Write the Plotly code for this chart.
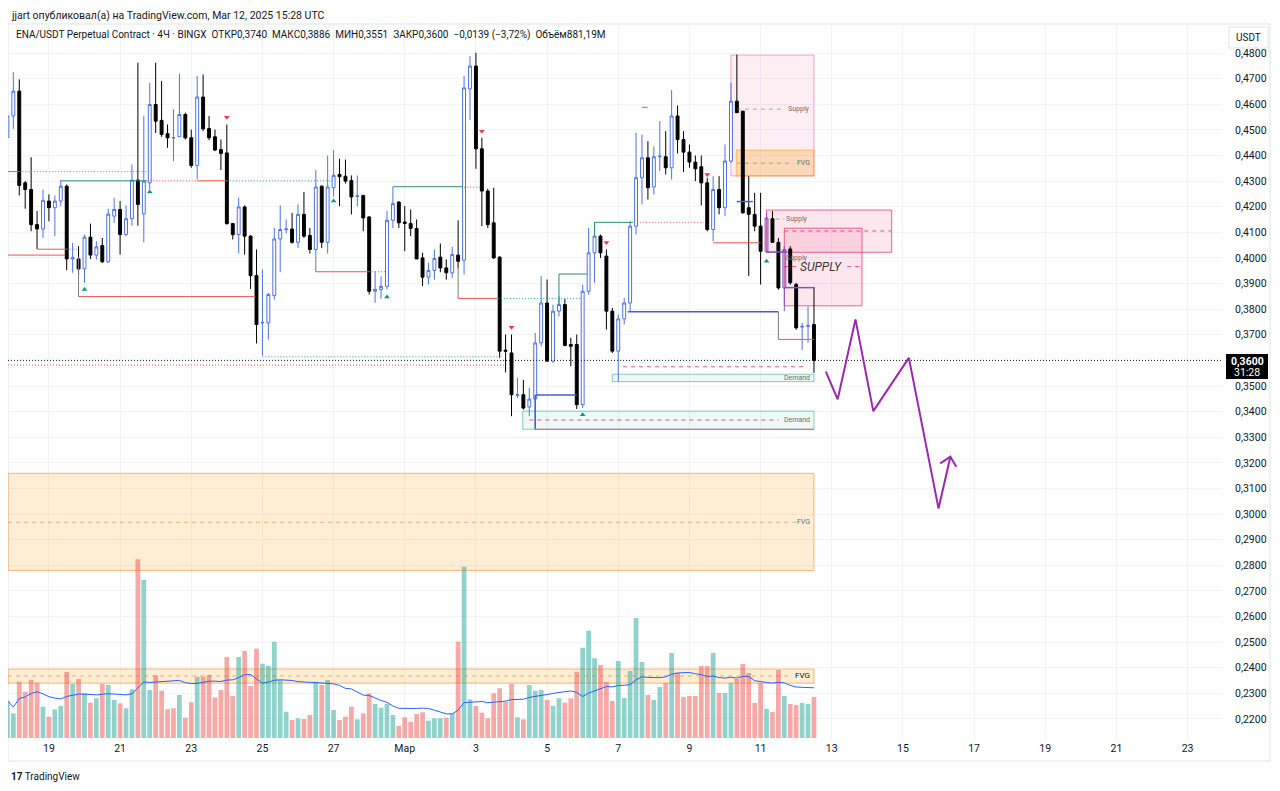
import pandas as pd
import plotly.graph_objects as go

# ---------------- DATA ----------------
T0 = pd.Timestamp("2025-02-17 20:00")  # first (partial) 4h candle

opens = [0.4470,0.4554,0.4651,0.4293,0.4267,0.4130,0.4113,0.4222,0.4196,0.4222,
 0.4280,0.3996,0.3996,0.3957,0.4081,0.4011,0.4048,0.3985,0.4163,0.4189,
 0.4091,0.4153,0.4304,0.4172,0.4293,0.4599,0.4537,0.4485,0.4468,0.4473,
 0.4560,0.4469,0.4361,0.4628,0.4505,0.4473,0.4423,0.4410,0.4134,0.4091,
 0.4199,0.4085,0.3931,0.3746,0.3746,0.3853,0.4074,0.4111,0.4113,0.4061,
 0.4170,0.4088,0.4033,0.4280,0.4061,0.4274,0.4326,0.4319,0.4302,0.4240,
 0.4244,0.4160,0.3870,0.3877,0.3889,0.4147,0.4218,0.4140,0.4134,0.4115,
 0.4000,0.3925,0.3951,0.4003,0.3961,0.3942,0.4011,0.3991,0.4660,0.4749,
 0.4426,0.4261,0.4137,0.4003,0.3640,0.3629,0.3463,0.3466,0.3418,0.3449,
 0.3668,0.3824,0.3597,0.3792,0.3818,0.3662,0.3662,0.3427,0.3870,0.4020,
 0.4085,0.4007,0.3792,0.3636,0.3762,0.3824,0.4124,0.4313,0.4391,0.4277,
 0.4395,0.4395,0.4352,0.4554,0.4462,0.4413,0.4374,0.4356,0.4293,0.4111,
 0.4267,0.4196,0.4378,0.4612,0.4573,0.4196,0.4170,0.4124,0.4026,0.4153,
 0.4061,0.3883,0.4035,0.3896,0.3730,0.3733,0.3740]
highs = [0.4554,0.4725,0.4697,0.4300,0.4393,0.4183,0.4267,0.4248,0.4244,0.4304,
 0.4287,0.4059,0.4046,0.4091,0.4134,0.4065,0.4078,0.4192,0.4235,0.4222,
 0.4205,0.4365,0.4762,0.4554,0.4684,0.4762,0.4690,0.4521,0.4580,0.4720,
 0.4567,0.4501,0.4710,0.4716,0.4554,0.4501,0.4462,0.4521,0.4137,0.4235,
 0.4205,0.4089,0.4033,0.3955,0.3863,0.4117,0.4205,0.4150,0.4176,0.4209,
 0.4257,0.4117,0.4343,0.4283,0.4400,0.4421,0.4387,0.4384,0.4322,0.4322,
 0.4246,0.4163,0.3948,0.3928,0.4183,0.4277,0.4222,0.4202,0.4189,0.4150,
 0.4020,0.3981,0.4033,0.4056,0.3994,0.4043,0.4147,0.4710,0.4788,0.4801,
 0.4469,0.4270,0.4274,0.4007,0.3701,0.3701,0.3531,0.3524,0.3492,0.3707,
 0.3929,0.3916,0.3818,0.3850,0.3840,0.3688,0.3701,0.3896,0.4117,0.4137,
 0.4091,0.4033,0.3805,0.3779,0.3844,0.4143,0.4488,0.4482,0.4456,0.4436,
 0.4534,0.4495,0.4655,0.4595,0.4495,0.4443,0.4400,0.4400,0.4313,0.4319,
 0.4319,0.4443,0.4684,0.4794,0.4573,0.4319,0.4254,0.4254,0.4176,0.4183,
 0.4078,0.4046,0.4046,0.3903,0.3747,0.3810,0.3886]
lows = [0.4460,0.4504,0.4244,0.4192,0.4104,0.4035,0.4078,0.4143,0.4085,0.4202,
 0.3952,0.3942,0.3935,0.3903,0.3996,0.3994,0.3981,0.3981,0.4137,0.4013,
 0.4085,0.4126,0.4126,0.4061,0.4267,0.4488,0.4473,0.4430,0.4378,0.4473,
 0.4462,0.4352,0.4306,0.4495,0.4460,0.4417,0.4343,0.4130,0.4072,0.4017,
 0.4013,0.3879,0.3666,0.3619,0.3681,0.3837,0.3944,0.4095,0.4056,0.4039,
 0.4078,0.4017,0.4013,0.4039,0.4017,0.4240,0.4202,0.4290,0.4170,0.4202,
 0.4104,0.3857,0.3825,0.3840,0.3877,0.4117,0.4117,0.4026,0.4085,0.3996,
 0.3890,0.3896,0.3915,0.3944,0.3915,0.3922,0.3960,0.3935,0.4538,0.4348,
 0.4124,0.4117,0.3996,0.3610,0.3553,0.3382,0.3453,0.3408,0.3382,0.3343,
 0.3655,0.3597,0.3590,0.3772,0.3655,0.3577,0.3410,0.3414,0.3857,0.3903,
 0.4000,0.3720,0.3629,0.3518,0.3740,0.3792,0.4091,0.4209,0.4228,0.4248,
 0.4340,0.4326,0.4306,0.4408,0.4335,0.4352,0.4300,0.4205,0.4104,0.4065,
 0.4170,0.4163,0.4371,0.4567,0.4173,0.3929,0.4104,0.3896,0.4020,0.4059,
 0.3876,0.3792,0.3896,0.3720,0.3641,0.3669,0.3551]
closes = [0.4554,0.4651,0.4283,0.4267,0.4130,0.4113,0.4225,0.4196,0.4222,0.4280,
 0.3996,0.4002,0.3957,0.4081,0.4011,0.4043,0.3985,0.4171,0.4189,0.4091,
 0.4153,0.4304,0.4209,0.4300,0.4599,0.4534,0.4482,0.4469,0.4470,0.4560,
 0.4469,0.4361,0.4628,0.4504,0.4469,0.4421,0.4408,0.4134,0.4091,0.4199,
 0.4085,0.3931,0.3740,0.3748,0.3857,0.4074,0.4111,0.4113,0.4061,0.4170,
 0.4085,0.4033,0.4277,0.4061,0.4277,0.4322,0.4317,0.4300,0.4238,0.4242,
 0.4156,0.3870,0.3877,0.3889,0.4147,0.4212,0.4137,0.4135,0.4115,0.3996,
 0.3925,0.3951,0.3998,0.3961,0.3942,0.4013,0.3987,0.4664,0.4749,0.4426,
 0.4261,0.4130,0.4000,0.3636,0.3636,0.3466,0.3466,0.3414,0.3449,0.3668,
 0.3824,0.3597,0.3792,0.3818,0.3658,0.3655,0.3427,0.3870,0.4020,0.4085,
 0.4020,0.3792,0.3636,0.3762,0.3824,0.4124,0.4313,0.4391,0.4274,0.4395,
 0.4397,0.4352,0.4554,0.4462,0.4413,0.4374,0.4348,0.4293,0.4111,0.4267,
 0.4196,0.4378,0.4612,0.4567,0.4176,0.4170,0.4124,0.4026,0.4156,0.4061,
 0.3883,0.4033,0.3903,0.3727,0.3733,0.3735,0.3600]
volumes_m = [800,531,1210,995,1247,1189,673,458,617,688,
 1419,1161,1269,961,759,854,1161,1140,817,746,
 639,1047,3842,3397,1032,1348,1017,617,639,925,
 436,768,1318,1318,1355,875,1032,1742,903,1742,
 1871,1118,1920,1597,1548,2070,1247,565,387,424,
 409,495,1210,1140,1247,602,387,458,673,402,
 531,961,731,651,731,495,258,445,350,516,
 553,372,424,424,436,531,2070,3683,832,688,
 544,424,961,1069,780,1161,445,402,1140,1017,
 1032,817,694,854,759,854,1425,1941,2307,1714,
 1570,1204,796,1656,860,1441,2580,1634,925,817,
 1097,1183,1828,1398,882,903,903,1548,1548,1828,
 968,968,1183,1269,1591,1398,753,1183,624,559,
 1462,903,731,710,753,731,881.19]
vol_dir = ("uudddduduu" "dudududuud" "uuduuddddu" "dduddddddu" "ddduuuuudu"
           "dduduudddu" "dduuuudddd" "duuududuud" "dddddduduu" "uduuddduuu"
           "ddduuuuudu" "ududdddddu" "duudddddud" "dudduud")
purple_candles = [128, 131]

# signal triangles (candle index, price)
sig_down = [(37, 0.4549), (80, 0.4495), (85, 0.3729), (101, 0.4060), (118, 0.4326)]
sig_up = [(13, 0.3877), (24, 0.4257), (55, 0.4222), (64, 0.3847), (97, 0.3388), (128, 0.3987)]

# structure lines (start index, end index, price)
red_solid = [(0.1, 2, 0.4337), (32, 37, 0.4301), (5, 10, 0.4034), (0.1, 9.7, 0.4011),
             (12, 41.8, 0.3849), (52, 61, 0.3946), (76, 82.7, 0.3842), (119, 127, 0.4059),
             (130, 136, 0.3682), (107, 108, 0.4588), (89, 136, 0.3331)]
red_dotted = [(24, 32, 0.4301), (77, 80, 0.4276), (106.2, 117.3, 0.4139), (0.1, 84, 0.3582)]
teal_dotted = [(2, 23.6, 0.4337), (37, 55, 0.4301), (61, 64, 0.3946), (82.7, 96.6, 0.3842),
               (43, 83.5, 0.3614), (10, 12, 0.4034)]
teal_solid = [(9, 23.6, 0.4301), (65, 76.8, 0.4278), (93, 97.7, 0.3937), (99, 105.5, 0.4139)]
teal_vert = [(93, 0.3818, 0.3937), (99, 0.4085, 0.4139)]
blue_solid = [(89, 96, 0.3465), (104.6, 130, 0.3790), (123, 125.7, 0.4220)]
blue_vert = [(89, 0.3331, 0.3465)]
purple_solid = [(128, 131.5, 0.4023), (131, 136, 0.3884)]
gray_vert = [(12, 0.4004, 0.3849), (52, 0.4013, 0.3946), (76, 0.3984, 0.3842), (130, 0.3790, 0.3682)]
current_price = 0.3600

# zones (start index, end index, top price, bottom price)
supply_top = (122, 136, 0.4792, 0.4320)
fvg_top = (122.9, 136, 0.4421, 0.4320)
supply_mid = [(128, 149.1, 0.4187, 0.4022), (131, 144.1, 0.4116, 0.3813)]
demand_zones = [(102, 136, 0.3546, 0.3517), (86.9, 136, 0.3402, 0.3331)]
fvg_big = (0.1, 136, 0.3159, 0.2780)
fvg_vol = (0.1, 136, 0.2395, 0.2340)
dashed_gray = [(123, 131, 0.4581), (123, 132, 0.4370), (129.5, 131, 0.4152)]
dashed_pink = [(131, 149, 0.4105), (131, 133.7, 0.3966), (141.6, 144.1, 0.3966),
               (103.8, 134.2, 0.3575), (88, 130, 0.3367)]
dashed_orange = [(0.1, 133, 0.2968), (0.1, 132, 0.2368)]

zone_labels = [("Supply", 135.6, 0.4581), ("FVG", 135.6, 0.4370), ("Supply", 135.4, 0.4152),
               ("Supply", 135.4, 0.4000), ("Demand", 135.6, 0.3531), ("Demand", 135.6, 0.3367),
               ("FVG", 135.6, 0.2968)]
supply_label = ("SUPPLY", 137.1, 0.3966)

# projected path (candle index, price)
proj_idx = [138, 140, 143, 146, 152, 157, 159]
proj_price = [0.3556, 0.3448, 0.3760, 0.3402, 0.3610, 0.3022, 0.3224]
arrow_idx = [157.3, 159, 160]
arrow_price = [0.3198, 0.3224, 0.3185]

price_ticks = [0.22, 0.23, 0.24, 0.25, 0.26, 0.27, 0.28, 0.29, 0.30, 0.31, 0.32, 0.33,
               0.34, 0.35, 0.37, 0.38, 0.39, 0.40, 0.41, 0.42, 0.43, 0.44, 0.45, 0.46, 0.47, 0.48]
date_ticks = ["2025-02-19", "2025-02-21", "2025-02-23", "2025-02-25", "2025-02-27", "2025-03-01",
              "2025-03-03", "2025-03-05", "2025-03-07", "2025-03-09", "2025-03-11", "2025-03-13",
              "2025-03-15", "2025-03-17", "2025-03-19", "2025-03-21", "2025-03-23"]
date_labels = ["19", "21", "23", "25", "27", "Мар", "3", "5", "7", "9", "11", "13",
               "15", "17", "19", "21", "23"]

# ---------------- HELPERS ----------------
def t(j):
    return (T0 + pd.Timedelta(hours=4 * j)).strftime("%Y-%m-%d %H:%M:%S")

N = len(opens)
assert len(vol_dir) == N and len(volumes_m) == N
times = [t(j) for j in range(N)]

FONT = "Roboto, Liberation Sans, Arial, sans-serif"
OFF = 8                       # page body margin of the html document
FIG_W, FIG_H = 1280 - OFF, 791 - OFF
L, R, TOP, BOT = 8, 1222, 24, 740   # plot area in screen pixels
W_PX, H_PX = R - L, BOT - TOP
def px(x):
    return (x - L) / W_PX
def py(y):
    return (BOT - y) / H_PX

def price_at(y):
    return 0.48 - (y - 53) / 2561.5

def hline_trace(segs, color, width=1, dash="solid"):
    xs, ys = [], []
    for j0, j1, p in segs:
        xs += [t(j0), t(j1), None]
        ys += [p, p, None]
    return go.Scatter(x=xs, y=ys, mode="lines", line=dict(color=color, width=width, dash=dash),
                      hoverinfo="skip")

def vline_trace(segs, color, width=1):
    xs, ys = [], []
    for j, p0, p1 in segs:
        xs += [t(j), t(j), None]
        ys += [p0, p1, None]
    return go.Scatter(x=xs, y=ys, mode="lines", line=dict(color=color, width=width), hoverinfo="skip")

fig = go.Figure()

# volume
vol_colors = ["rgba(38,166,154,0.5)" if d == "u" else "rgba(239,83,80,0.5)" for d in vol_dir]
fig.add_trace(go.Bar(x=times, y=volumes_m, marker=dict(color=vol_colors, line=dict(width=0)),
                     width=4 * 3600 * 1000 * 0.8, yaxis="y2", hoverinfo="skip"))
vol_ma = pd.Series(volumes_m).rolling(20, min_periods=1).mean()
fig.add_trace(go.Scatter(x=times, y=vol_ma, mode="lines", line=dict(color="#2962ff", width=1),
                         yaxis="y2", hoverinfo="skip"))

# structure lines
fig.add_trace(hline_trace(teal_dotted, "#26a69a", 1, "1px,2px"))
fig.add_trace(hline_trace(red_dotted, "#ef5350", 1, "1px,2px"))
fig.add_trace(hline_trace(red_solid, "#ef5350", 1))
fig.add_trace(hline_trace(teal_solid, "#2e8b74", 1))
fig.add_trace(vline_trace(teal_vert, "#2e8b74", 1))
fig.add_trace(hline_trace(blue_solid, "#4c5bd4", 1.5))
fig.add_trace(vline_trace(blue_vert, "#4c5bd4", 1.5))
fig.add_trace(hline_trace(purple_solid, "#7e57c2", 1.5))
fig.add_trace(vline_trace(gray_vert, "#787b86", 1))
fig.add_trace(hline_trace(dashed_gray, "rgba(120,120,120,0.6)", 1, "4px,4px"))
fig.add_trace(hline_trace(dashed_pink, "rgba(200,40,100,0.75)", 1, "4px,4px"))
fig.add_trace(hline_trace(dashed_orange, "rgba(230,120,60,0.55)", 1, "4px,4px"))
fig.add_trace(hline_trace([(0.1, 204.8, current_price)], "#131722", 1, "1px,2px"))

# candles
def masked(arr, keep):
    return [v if keep(i) else None for i, v in enumerate(arr)]

main_keep = lambda i: i not in purple_candles
purp_keep = lambda i: i in purple_candles
fig.add_trace(go.Candlestick(
    x=times, open=masked(opens, main_keep), high=masked(highs, main_keep),
    low=masked(lows, main_keep), close=masked(closes, main_keep),
    increasing=dict(line=dict(color="#4e72e5", width=1), fillcolor="#ffffff"),
    decreasing=dict(line=dict(color="#000000", width=1), fillcolor="#000000"),
    whiskerwidth=0, hoverinfo="skip"))
fig.add_trace(go.Candlestick(
    x=times, open=masked(opens, purp_keep), high=masked(highs, purp_keep),
    low=masked(lows, purp_keep), close=masked(closes, purp_keep),
    increasing=dict(line=dict(color="#7e57c2", width=1), fillcolor="rgba(126,87,194,0.25)"),
    decreasing=dict(line=dict(color="#7e57c2", width=1), fillcolor="#7e57c2"),
    whiskerwidth=0, hoverinfo="skip"))

# signals
fig.add_trace(go.Scatter(x=[t(j) for j, _ in sig_down], y=[p for _, p in sig_down], mode="markers",
                         marker=dict(symbol="triangle-down", size=5, color="#f23645"), hoverinfo="skip"))
fig.add_trace(go.Scatter(x=[t(j) for j, _ in sig_up], y=[p for _, p in sig_up], mode="markers",
                         marker=dict(symbol="triangle-up", size=5, color="#089981"), hoverinfo="skip"))

# projection
fig.add_trace(go.Scatter(x=[t(j) for j in proj_idx], y=proj_price, mode="lines",
                         line=dict(color="#9c27b0", width=2), hoverinfo="skip"))
fig.add_trace(go.Scatter(x=[t(j) for j in arrow_idx], y=arrow_price, mode="lines",
                         line=dict(color="#9c27b0", width=2), hoverinfo="skip"))

# zones
shapes = []
def box(z, fill, line, lw=1):
    j0, j1, top, bot = z
    shapes.append(dict(type="rect", xref="x", yref="y", x0=t(j0), x1=t(j1), y0=bot, y1=top,
                       fillcolor=fill, line=dict(color=line, width=lw), layer="between"))

box(fvg_big, "rgba(255,167,38,0.2)", "rgba(245,140,40,0.6)")
box(fvg_vol, "rgba(255,167,38,0.2)", "rgba(245,140,40,0.6)")
box(supply_top, "rgba(236,64,122,0.09)", "rgba(236,64,122,0.45)")
box(fvg_top, "rgba(255,152,0,0.25)", "rgba(255,152,0,0.55)")
for z in supply_mid:
    box(z, "rgba(236,64,122,0.13)", "rgba(226,50,110,0.75)")
for z in demand_zones:
    box(z, "rgba(38,166,154,0.08)", "rgba(38,166,154,0.55)")

# frame and right-axis widgets
shapes.append(dict(type="rect", xref="paper", yref="paper", x0=0, x1=px(1270), y0=py(761), y1=1,
                   line=dict(color="#e0e3eb", width=1), fillcolor="rgba(0,0,0,0)", layer="below"))
shapes.append(dict(type="rect", xref="paper", yref="paper", x0=px(1229), x1=px(1268), y0=py(48), y1=py(27),
                   line=dict(color="#e0e3eb", width=1), fillcolor="#ffffff"))
shapes.append(dict(type="rect", xref="paper", yref="paper", x0=px(1226), x1=px(1268), y0=py(379), y1=py(354),
                   line=dict(width=0), fillcolor="#000000"))

annotations = []
for txt, j, p in zone_labels:
    annotations.append(dict(x=t(j), y=p, xref="x", yref="y", text=txt, showarrow=False,
                            xanchor="right", yanchor="middle",
                            font=dict(family=FONT, size=7, color="#6a6d78")))
annotations.append(dict(x=t(135.6), y=0.2368, xref="x", yref="y", text="FVG", showarrow=False,
                        xanchor="right", yanchor="middle", font=dict(family=FONT, size=8, color="#131722")))
annotations.append(dict(x=t(supply_label[1]), y=supply_label[2], xref="x", yref="y",
                        text="<i>" + supply_label[0] + "</i>", showarrow=False,
                        xanchor="center", yanchor="middle", font=dict(family=FONT, size=12, color="#3a3a3a")))
annotations.append(dict(x=px(10), y=py(OFF), xref="paper", yref="paper", showarrow=False,
                        text="jjart опубликовал(а) на TradingView.com, Mar 12, 2025 15:28 UTC",
                        xanchor="left", yanchor="top", borderpad=0,
                        font=dict(family=FONT, size=10.5, color="#131722")))
annotations.append(dict(x=px(14), y=py(35), xref="paper", yref="paper", showarrow=False,
                        text="ENA/USDT Perpetual Contract · 4Ч · BINGX  ОТКР0,3740  МАКС0,3886  МИН0,3551  ЗАКР0,3600  −0,0139 (−3,72%)  Объём881,19M",
                        xanchor="left", yanchor="middle", font=dict(family=FONT, size=10, color="#131722")))
annotations.append(dict(x=px(1248.5), y=py(37.5), xref="paper", yref="paper", showarrow=False, text="USDT",
                        xanchor="center", yanchor="middle", font=dict(family=FONT, size=10, color="#131722")))
annotations.append(dict(x=px(1247), y=py(361), xref="paper", yref="paper", showarrow=False, text="<b>0,3600</b>",
                        xanchor="center", yanchor="middle", font=dict(family=FONT, size=10.5, color="#ffffff")))
annotations.append(dict(x=px(1247), y=py(372.5), xref="paper", yref="paper", showarrow=False, text="31:28",
                        xanchor="center", yanchor="middle", font=dict(family=FONT, size=10.5, color="#ffffff")))
annotations.append(dict(x=px(9), y=py(776), xref="paper", yref="paper", showarrow=False,
                        text="<b>17</b> TradingView", xanchor="left", yanchor="middle",
                        font=dict(family=FONT, size=10, color="#131722")))

fig.update_layout(
    width=FIG_W, height=FIG_H,
    margin=dict(l=L - OFF, r=FIG_W - (R - OFF), t=TOP - OFF, b=FIG_H - (BOT - OFF)),
    paper_bgcolor="#ffffff", plot_bgcolor="#ffffff",
    showlegend=False, hovermode=False, dragmode=False,
    boxgap=0.3,
    shapes=shapes, annotations=annotations,
    xaxis=dict(type="date", range=[t(0.1), t(204.8)], rangeslider=dict(visible=False),
               tickvals=date_ticks, ticktext=date_labels, showgrid=True, gridcolor="#f0f3fa",
               gridwidth=1, zeroline=False, ticks="", showline=False,
               tickfont=dict(family=FONT, size=10.5, color="#131722")),
    yaxis=dict(side="right", range=[price_at(BOT), price_at(TOP)], tickvals=price_ticks,
               ticktext=[f"{v:.4f}".replace(".", ",") for v in price_ticks],
               showgrid=True, gridcolor="#f0f3fa", gridwidth=1, zeroline=False, ticks="",
               ticklabelstandoff=12, showline=False,
               tickfont=dict(family=FONT, size=10.5, color="#131722")),
    yaxis2=dict(overlaying="y", range=[-2 * 21.5, (H_PX - 2) * 21.5], visible=False,
                showgrid=False),
)

fig.write_html("out.html")
